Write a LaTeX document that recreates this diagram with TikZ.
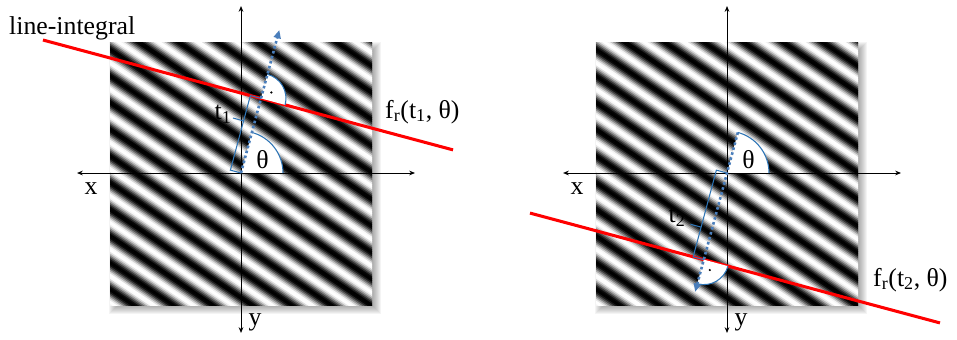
\documentclass[tikz,border=0pt]{standalone}
\usepackage{fontspec}
\setmainfont{Liberation Serif}
\usepackage{tikz}
\usetikzlibrary{arrows.meta}
\definecolor{projblue}{RGB}{74,126,187}
\definecolor{braceblue}{RGB}{46,117,182}

\begin{document}
\begin{tikzpicture}[x=0.03cm, y=-0.03cm, every node/.style={font=\fontsize{22}{26}\selectfont, inner sep=0pt},
  axis/.style={line width=0.8pt, {Stealth[length=5pt,width=4pt]}-{Stealth[length=5pt,width=4pt]}},
  ray/.style={red, line width=2.6pt},
  normal/.style={projblue, line width=2.2pt, dash pattern=on 2.2pt off 2.2pt, -{Triangle[length=7pt,width=6pt]}},
  anglearc/.style={braceblue, line width=0.9pt},
  brace/.style={braceblue, line width=0.9pt}]
  \useasboundingbox (0,0) rectangle (957,340);
  \foreach \ox/\i in {0/1,486/2} {
    \coordinate (O\i) at (241+\ox,173);
    \foreach \e in {-3,...,5} { \fill[black, opacity=0.045] (114+\ox-\e,47-\e) rectangle (376+\ox+\e,309+\e); }
    \begin{scope}
      \clip (110+\ox,43) rectangle (372+\ox,305);
      \begin{scope}[shift={(O\i)}, rotate=-34]
        \foreach \s in {-190,-188.5,...,190} {
          \pgfmathsetmacro\bk{min(100,max(0,50-54*cos((\s+0.75-4)/22.1*360)))}
          \fill[black!\bk!white] (-200,\s) rectangle (200,\s+2);
        }
      \end{scope}
    \end{scope}
    \fill[white] (O\i) -- ++(0:42) arc[start angle=0, end angle=-75, radius=42] -- cycle;
    \coordinate (XL\i) at (77+\ox,173);
    \coordinate (XR\i) at (415+\ox,173);
    \coordinate (YT\i) at (241+\ox,6);
    \coordinate (YB\i) at (241+\ox,333);
    \draw[axis] (XL\i) -- (XR\i);
    \draw[axis] (YT\i) -- (YB\i);
    \node (x\i) at (91+\ox,189) {x};
    \node (y\i) at (255+\ox,322) {y};
    \draw[anglearc] (O\i) ++(0:42) arc[start angle=0, end angle=-75, radius=42];
    \node (theta\i) at (262.5+\ox,160) {θ};
  }

  \path (O1) ++(-75:77.2) coordinate (F1);
  \path (F1) ++(195:225.7) coordinate (RA1) (F1) ++(15:198.8) coordinate (RB1);
  \draw[ray] (RA1) -- (RB1);
  \fill[white] (F1) -- ++(-75:25) arc[start angle=-75, end angle=15, radius=25] -- cycle;
  \draw[anglearc] (F1) ++(-75:25) arc[start angle=-75, end angle=15, radius=25];
  \fill (F1) ++(-30:12) circle (1.2);
  \path (O1) ++(195:11) coordinate (BA1) (F1) ++(195:11) coordinate (BB1) (O1) ++(-75:51) ++(195:11) coordinate (BM1);
  \draw[brace] (O1) -- (BA1) -- (BB1) -- (F1);
  \draw[brace] (BM1) -- ++(195:11) coordinate (BT1);
  \draw[normal] (O1) -- ++(-75:148) coordinate (N1);
  \node (t1) at (223,114) {t\textsubscript{1}};
  \node[anchor=base west] (lineint) at (9,35) {line-integral};
  \node[anchor=base west] (fr1) at (385,118) {f\textsubscript{r}(t\textsubscript{1}, θ)};

  \path (O2) ++(105:89.7) coordinate (F2);
  \path (F2) ++(195:179.9) coordinate (RA2) (F2) ++(15:244.5) coordinate (RB2);
  \draw[ray] (RA2) -- (RB2);
  \fill[white] (F2) -- ++(15:25) arc[start angle=15, end angle=105, radius=25] -- cycle;
  \draw[anglearc] (F2) ++(15:25) arc[start angle=15, end angle=105, radius=25];
  \fill (F2) ++(60:12) circle (1.2);
  \path (O2) ++(195:11) coordinate (BA2) (F2) ++(195:11) coordinate (BB2) (O2) ++(105:59) ++(195:11) coordinate (BM2);
  \draw[brace] (O2) -- (BA2) -- (BB2) -- (F2);
  \draw[brace] (BM2) -- ++(195:11) coordinate (BT2);
  \path (O2) ++(-75:42) coordinate (NS2);
  \draw[normal] (NS2) -- ++(105:165) coordinate (N2);
  \node (t2) at (677,217) {t\textsubscript{2}};
  \node[anchor=base west] (fr2) at (873,286) {f\textsubscript{r}(t\textsubscript{2}, θ)};
\end{tikzpicture}
\end{document}
